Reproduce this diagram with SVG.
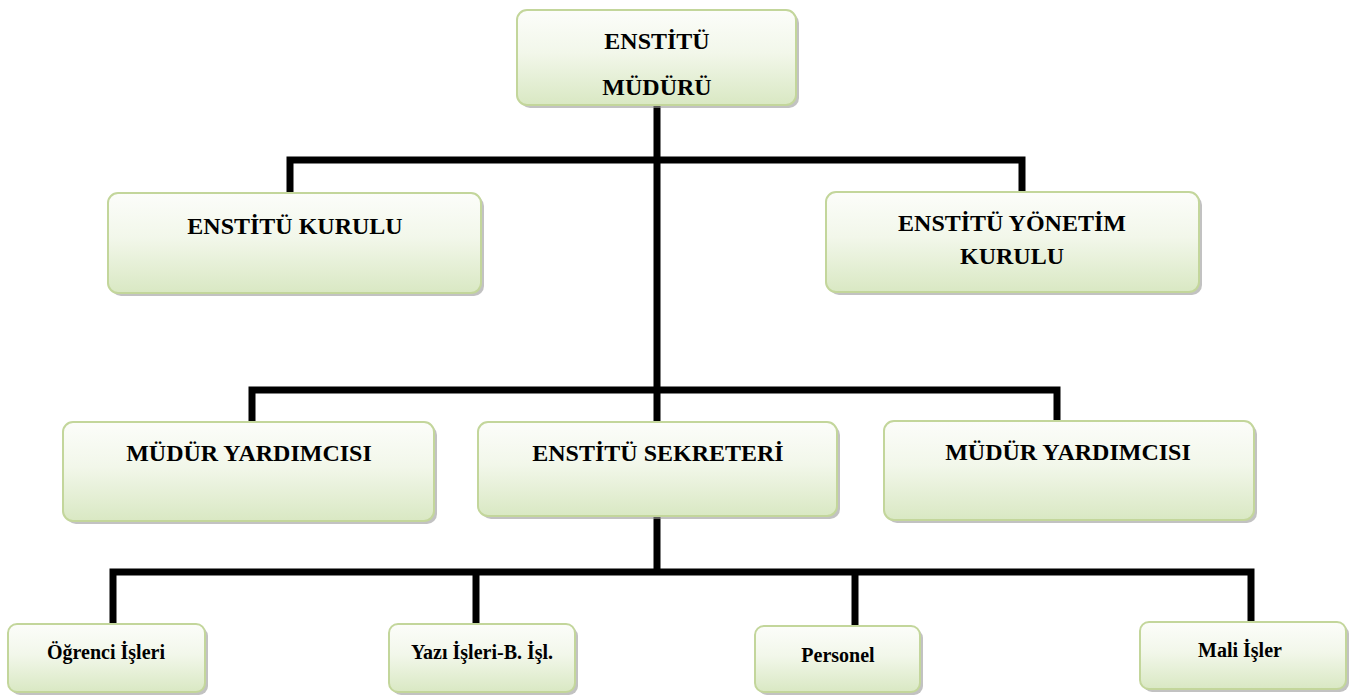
<svg xmlns="http://www.w3.org/2000/svg" width="1360" height="695" viewBox="0 0 1360 695">
<style>
.box{fill:url(#g);stroke:#c3d69b;stroke-width:2}
.sh{fill:#9a9a9a;opacity:0.6}
.t{font-family:"Liberation Serif","Times New Roman","DejaVu Serif",serif;font-weight:bold;fill:#000;text-anchor:middle}
.l{font-size:24px}
.s{font-size:20px}
.c{stroke:#000;stroke-width:7;fill:none;stroke-linecap:butt;stroke-linejoin:miter}
</style>
<defs>
<linearGradient id="g" x1="0" y1="0" x2="0" y2="1">
<stop offset="0" stop-color="#fcfdfa"/>
<stop offset="0.45" stop-color="#f2f7ea"/>
<stop offset="1" stop-color="#d9e8c3"/>
</linearGradient>
</defs>
<rect width="1360" height="695" fill="#fff"/>
<g id="connectors">
<path class="c" d="M657 104V422"/>
<path class="c" d="M290 192V160H1022V192"/>
<path class="c" d="M252 422V390H1057V422"/>
<path class="c" d="M657 516V572"/>
<path class="c" d="M113 624V572H1251V622"/>
<path class="c" d="M476 572V624"/>
<path class="c" d="M855 572V626"/>
</g>
<g id="mudur">
<rect class="sh" x="520" y="13" width="279" height="95" rx="10"/>
<rect class="box" x="517" y="10" width="279" height="95" rx="10"/>
<text class="t l" x="657" y="49">ENSTİTÜ</text>
<text class="t l" x="657" y="95">MÜDÜRÜ</text>
</g>
<g id="kurulu">
<rect class="sh" x="111" y="196" width="373" height="100" rx="10"/>
<rect class="box" x="108" y="193" width="373" height="100" rx="10"/>
<text class="t l" x="295" y="234">ENSTİTÜ KURULU</text>
</g>
<g id="yonetim">
<rect class="sh" x="829" y="195" width="373" height="100" rx="10"/>
<rect class="box" x="826" y="192" width="373" height="100" rx="10"/>
<text class="t l" x="1012" y="231">ENSTİTÜ YÖNETİM</text>
<text class="t l" x="1012" y="264">KURULU</text>
</g>
<g id="yard1">
<rect class="sh" x="66" y="425" width="371" height="99" rx="10"/>
<rect class="box" x="63" y="422" width="371" height="99" rx="10"/>
<text class="t l" x="249" y="461">MÜDÜR YARDIMCISI</text>
</g>
<g id="sekreter">
<rect class="sh" x="481" y="425" width="359" height="94" rx="10"/>
<rect class="box" x="478" y="422" width="359" height="94" rx="10"/>
<text class="t l" x="658" y="461">ENSTİTÜ SEKRETERİ</text>
</g>
<g id="yard2">
<rect class="sh" x="887" y="424" width="370" height="99" rx="10"/>
<rect class="box" x="884" y="421" width="370" height="99" rx="10"/>
<text class="t l" x="1068" y="460">MÜDÜR YARDIMCISI</text>
</g>
<g id="ogrenci">
<rect class="sh" x="11" y="627" width="197" height="68" rx="9"/>
<rect class="box" x="8" y="624" width="197" height="68" rx="9"/>
<text class="t s" x="106" y="659">Öğrenci İşleri</text>
</g>
<g id="yazi">
<rect class="sh" x="392" y="627" width="186" height="68" rx="9"/>
<rect class="box" x="389" y="624" width="186" height="68" rx="9"/>
<text class="t s" x="482" y="659">Yazı İşleri-B. İşl.</text>
</g>
<g id="personel">
<rect class="sh" x="758" y="629" width="165" height="66" rx="9"/>
<rect class="box" x="755" y="626" width="165" height="66" rx="9"/>
<text class="t s" x="838" y="662">Personel</text>
</g>
<g id="mali">
<rect class="sh" x="1143" y="625" width="206" height="67" rx="9"/>
<rect class="box" x="1140" y="622" width="206" height="67" rx="9"/>
<text class="t s" x="1240" y="657">Mali İşler</text>
</g>
</svg>
